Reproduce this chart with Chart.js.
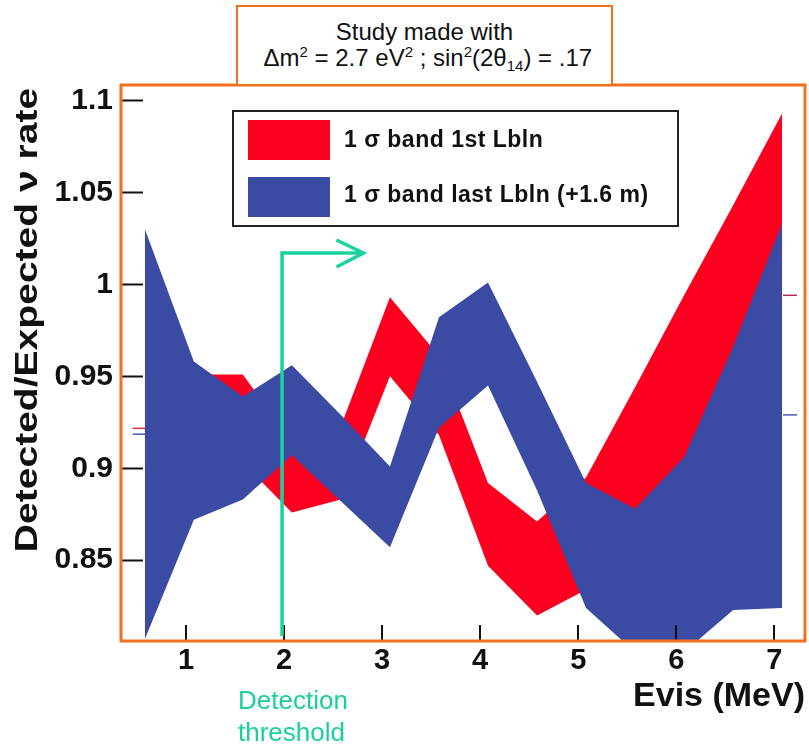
<!DOCTYPE html>
<html>
<head>
<meta charset="utf-8">
<title>Detected/Expected rate bands</title>
<script src="https://cdn.jsdelivr.net/npm/chart.js@4.4.1/dist/chart.umd.min.js"></script>
<style>
  body { margin: 0; background: #fff; font-family: "Liberation Sans", Arial, sans-serif; }
  #wrap { position: relative; width: 809px; height: 748px; }
  #note {
    position: absolute; left: 236px; top: 5px; width: 377px; height: 81px;
    box-sizing: border-box; border: 2px solid #F0701E; background: #fff;
    text-align: center; font-size: 24px; line-height: 26px; color: #111; padding-top: 12px;
  }
  #note sup, #note sub { font-size: 15px; line-height: 0; }
  #note sup { vertical-align: 9px; }
  #note sub { vertical-align: -5px; }
  #threshold {
    position: absolute; left: 238px; top: 684px; font-size: 26px; line-height: 32px; color: #19CF9C;
  }
</style>
</head>
<body>
<div id="wrap">
  <canvas id="bandChart"></canvas>
  <div id="note">Study made with<br>&nbsp;&Delta;m<sup>2</sup> = 2.7 eV<sup>2</sup> ; sin<sup>2</sup>(2&theta;<sub>14</sub>) = .17</div>
  <div id="threshold">Detection<br>threshold</div>
</div>
<script>
// =========================
// DATA
// =========================
const energy = [0.58, 1.08, 1.58, 2.08, 2.58, 3.08, 3.58, 4.08, 4.58, 5.08, 5.58, 6.08, 6.58, 7.08];

// 1 sigma band, first L bin (red)
const firstBinUpper = [0.950, 0.951, 0.951, 0.914, 0.923, 0.993, 0.961, 0.892, 0.871, 0.895, 0.944, 0.994, 1.043, 1.093];
const firstBinLower = [0.900, 0.905, 0.903, 0.876, 0.883, 0.950, 0.918, 0.847, 0.820, 0.834, 0.850, 0.895, 0.945, 1.000];

// 1 sigma band, last L bin (blue)
const lastBinUpper = [1.030, 0.958, 0.939, 0.956, 0.929, 0.901, 0.982, 1.001, 0.947, 0.892, 0.878, 0.906, 0.966, 1.033];
const lastBinLower = [0.807, 0.872, 0.883, 0.907, 0.882, 0.857, 0.922, 0.945, 0.888, 0.824, 0.800, 0.800, 0.823, 0.824];

// little mean marks at both ends of the frame
const markLeftEnergy = [0.456, 0.582];
const markRightEnergy = [7.089, 7.232];
const firstBinMarks = [0.9217, 0.994];   // left, right
const lastBinMarks = [0.9185, 0.929];

const xTicks = [1, 2, 3, 4, 5, 6, 7];
const yTicks = [0.85, 0.9, 0.95, 1, 1.05, 1.1];
const xRange = [0.337, 7.313];
const yRange = [0.8061, 1.1083];

const thresholdEnergy = 2;

const RED = '#FB001F';
const BLUE = '#3B4AA3';
const ORANGE = '#F0701E';
const GREEN = '#19D39E';
const FONT = '"Liberation Sans", Arial, sans-serif';

function points(xs, ys) {
  return xs.map((x, i) => ({ x: x, y: ys[i] }));
}

function band(label, data, fill, color) {
  return {
    label: label,
    data: data,
    fill: fill,
    backgroundColor: color,
    borderColor: color,
    borderWidth: 0,
    pointRadius: 0,
    tension: 0
  };
}

function mark(xs, y, color) {
  return {
    label: '',
    data: xs.map(x => ({ x: x, y: y })),
    borderColor: color,
    borderWidth: 1.5,
    pointRadius: 0,
    fill: false
  };
}

// =========================
// FRAME, TICKS, LEGEND, ARROW
// =========================
const decor = {
  id: 'decor',
  afterDatasetsDraw(chart) {
    const ctx = chart.ctx;
    const area = chart.chartArea;
    const xs = chart.scales.x;
    const ys = chart.scales.y;

    ctx.save();

    // tick marks pointing inwards
    ctx.strokeStyle = '#111';
    ctx.lineWidth = 2;
    yTicks.forEach(v => {
      const py = Math.round(ys.getPixelForValue(v)) + 0.5;
      ctx.beginPath();
      ctx.moveTo(area.left, py);
      ctx.lineTo(area.left + 22, py);
      ctx.stroke();
    });
    xTicks.forEach(v => {
      const px = Math.round(xs.getPixelForValue(v));
      ctx.beginPath();
      ctx.moveTo(px, area.bottom);
      ctx.lineTo(px, area.bottom - 16);
      ctx.stroke();
    });

    // legend
    const first = chart.data.datasets[2];
    const last = chart.data.datasets[0];
    ctx.fillStyle = '#fff';
    ctx.fillRect(233, 111, 445, 115);
    ctx.strokeStyle = '#222';
    ctx.lineWidth = 2;
    ctx.strokeRect(233, 111, 445, 115);
    ctx.fillStyle = first.backgroundColor;
    ctx.fillRect(248, 120, 82, 40);
    ctx.fillStyle = last.backgroundColor;
    ctx.fillRect(248, 177, 82, 40);
    ctx.fillStyle = '#111';
    ctx.font = 'bold 23px ' + FONT;
    ctx.letterSpacing = '0.5px';
    ctx.textBaseline = 'middle';
    ctx.textAlign = 'left';
    ctx.fillText(first.label, 344, 141);
    ctx.fillText(last.label, 344, 196);
    ctx.letterSpacing = '0px';

    // detection threshold arrow
    const tx = xs.getPixelForValue(thresholdEnergy);
    const topY = ys.getPixelForValue(1.017);
    const endX = xs.getPixelForValue(2.81);
    ctx.strokeStyle = GREEN;
    ctx.lineWidth = 3.5;
    ctx.lineJoin = 'miter';
    ctx.beginPath();
    ctx.moveTo(tx - 2, area.bottom - 5);
    ctx.lineTo(tx - 2, topY);
    ctx.lineTo(endX, topY);
    ctx.stroke();
    ctx.beginPath();
    ctx.moveTo(endX - 27, topY - 13);
    ctx.lineTo(endX, topY);
    ctx.lineTo(endX - 27, topY + 14);
    ctx.stroke();

    // orange frame
    ctx.strokeStyle = ORANGE;
    ctx.lineWidth = 3;
    ctx.strokeRect(area.left, area.top, area.right - area.left, area.bottom - area.top);

    // axis titles
    ctx.fillStyle = '#111';
    ctx.font = 'bold 34px ' + FONT;
    ctx.textAlign = 'right';
    ctx.textBaseline = 'alphabetic';
    ctx.fillText('Evis (MeV)', area.right, 706);

    ctx.translate(28, 320);
    ctx.rotate(-Math.PI / 2);
    ctx.scale(1.22, 1);
    ctx.font = 'bold 32px ' + FONT;
    ctx.textAlign = 'center';
    ctx.textBaseline = 'middle';
    ctx.fillText('Detected/Expected \u03bd rate', 0, 0);

    ctx.restore();
  }
};

const ctx = document.getElementById('bandChart').getContext('2d');

new Chart(ctx, {
  type: 'line',
  data: {
    datasets: [
      band('1 \u03c3 band last Lbln (+1.6 m)', points(energy, lastBinUpper), '+1', BLUE),
      band('last Lbin lower', points(energy, lastBinLower), false, BLUE),
      band('1 \u03c3 band 1st Lbln', points(energy, firstBinUpper), '+1', RED),
      band('1st Lbin lower', points(energy, firstBinLower), false, RED),
      mark(markLeftEnergy, firstBinMarks[0], '#D8364A'),
      mark(markLeftEnergy, lastBinMarks[0], '#4A5AB0'),
      mark(markRightEnergy, firstBinMarks[1], '#B0304A'),
      mark(markRightEnergy, lastBinMarks[1], '#4A5AB0')
    ]
  },
  options: {
    responsive: true,
    maintainAspectRatio: false,
    animation: false,
    layout: { padding: { top: 85, right: 4, bottom: 0, left: 0 } },
    plugins: {
      legend: { display: false },
      tooltip: { enabled: false }
    },
    scales: {
      x: {
        type: 'linear',
        min: xRange[0],
        max: xRange[1],
        grid: { display: false, drawTicks: false },
        border: { display: false },
        afterBuildTicks: s => { s.ticks = xTicks.map(v => ({ value: v })); },
        afterFit: s => { s.height = 107; },
        ticks: {
          color: '#111',
          padding: 3,
          maxRotation: 0,
          autoSkip: false,
          font: { family: FONT, size: 29, weight: 'bold' },
          callback: v => String(v)
        }
      },
      y: {
        min: yRange[0],
        max: yRange[1],
        grid: { display: false, drawTicks: false },
        border: { display: false },
        afterBuildTicks: s => { s.ticks = yTicks.map(v => ({ value: v })); },
        afterFit: s => { s.width = 121; },
        ticks: {
          color: '#111',
          padding: 8,
          font: { family: FONT, size: 30, weight: 'bold' },
          callback: v => String(v)
        }
      }
    }
  },
  plugins: [decor]
});
</script>
</body>
</html>
